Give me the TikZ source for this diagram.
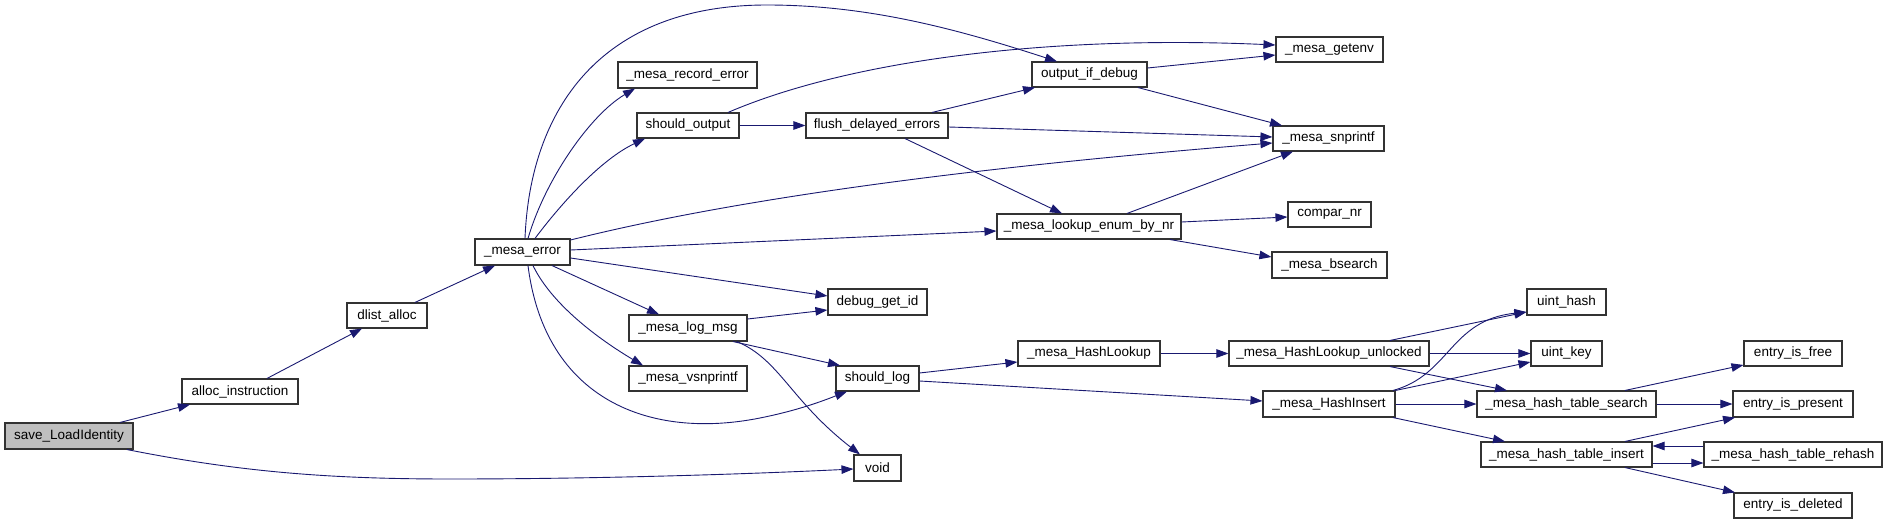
\documentclass[tikz,border=0pt]{standalone}
\usepackage{fontspec}
\setmainfont{Liberation Sans}
\usetikzlibrary{arrows.meta}
\definecolor{edgeblue}{HTML}{191970}
\definecolor{boxline}{HTML}{333333}
\definecolor{rootfill}{HTML}{BFBFBF}
\begin{document}
\begin{tikzpicture}[x=1pt,y=-1pt,
  fbox/.style={draw=boxline,line width=1.1pt,fill=white,inner sep=0pt,
    font=\fontsize{13.5}{16}\selectfont},
  rootbox/.style={fbox,fill=rootfill},
  edge/.style={draw=edgeblue,line width=0.9pt,-{Triangle[length=12pt,width=8.5pt]},fill=none}]
\useasboundingbox (0,0) rectangle (1888,524);
% nodes
\node[rootbox,minimum width=128pt,minimum height=26pt] (sli) at (69,436) {save\_LoadIdentity};
\node[fbox,minimum width=116pt,minimum height=25pt] (ai) at (240,391.5) {alloc\_instruction};
\node[fbox,minimum width=80pt,minimum height=25pt] (da) at (387,315.5) {dlist\_alloc};
\node[fbox,minimum width=95pt,minimum height=26pt] (me) at (522.5,252) {\_mesa\_error};
\node[fbox,minimum width=139pt,minimum height=26pt] (mre) at (687.5,75) {\_mesa\_record\_error};
\node[fbox,minimum width=102pt,minimum height=25pt] (so) at (688,125.5) {should\_output};
\node[fbox,minimum width=142pt,minimum height=25pt] (fde) at (877,125.5) {flush\_delayed\_errors};
\node[fbox,minimum width=115pt,minimum height=25pt] (oid) at (1089.5,74.5) {output\_if\_debug};
\node[fbox,minimum width=107pt,minimum height=25pt] (ge) at (1329.5,49.5) {\_mesa\_getenv};
\node[fbox,minimum width=111pt,minimum height=25pt] (sn) at (1328.5,138.5) {\_mesa\_snprintf};
\node[fbox,minimum width=184pt,minimum height=25pt] (le) at (1089,226.5) {\_mesa\_lookup\_enum\_by\_nr};
\node[fbox,minimum width=83pt,minimum height=25pt] (cn) at (1329.5,214.5) {compar\_nr};
\node[fbox,minimum width=115pt,minimum height=26pt] (bs) at (1329.5,265) {\_mesa\_bsearch};
\node[fbox,minimum width=99pt,minimum height=26pt] (dg) at (877.5,302) {debug\_get\_id};
\node[fbox,minimum width=118pt,minimum height=26pt] (lm) at (688,328) {\_mesa\_log\_msg};
\node[fbox,minimum width=118pt,minimum height=25pt] (vs) at (688,378.5) {\_mesa\_vsnprintf};
\node[fbox,minimum width=83pt,minimum height=25pt] (sl) at (877.5,378.5) {should\_log};
\node[fbox,minimum width=47pt,minimum height=26pt] (vo) at (877.5,468) {void};
\node[fbox,minimum width=142pt,minimum height=25pt] (hl) at (1089,353.5) {\_mesa\_HashLookup};
\node[fbox,minimum width=200pt,minimum height=25pt] (hlu) at (1329,353.5) {\_mesa\_HashLookup\_unlocked};
\node[fbox,minimum width=132pt,minimum height=26pt] (hi) at (1329,404) {\_mesa\_HashInsert};
\node[fbox,minimum width=79pt,minimum height=26pt] (uh) at (1566.5,302) {uint\_hash};
\node[fbox,minimum width=71pt,minimum height=25pt] (uk) at (1566.5,353.5) {uint\_key};
\node[fbox,minimum width=179pt,minimum height=26pt] (hts) at (1566.5,404) {\_mesa\_hash\_table\_search};
\node[fbox,minimum width=171pt,minimum height=25pt] (hti) at (1566.5,454.5) {\_mesa\_hash\_table\_insert};
\node[fbox,minimum width=98pt,minimum height=25pt] (ef) at (1793,353.5) {entry\_is\_free};
\node[fbox,minimum width=120pt,minimum height=26pt] (ep) at (1793,404) {entry\_is\_present};
\node[fbox,minimum width=118pt,minimum height=25pt] (ed) at (1793,505.5) {entry\_is\_deleted};
\node[fbox,minimum width=178pt,minimum height=25pt] (htr) at (1793,454.5) {\_mesa\_hash\_table\_rehash};
% edges
\draw[edge] (120,0 |- sli.north) -- (190,0 |- ai.south);
\draw[edge] (127,0 |- sli.south) .. controls (240,472) and (330,479) .. (450,479) .. controls (600,479) and (750,474) .. (vo.west |- 0,469);
\draw[edge] (267,0 |- ai.north) -- (362,0 |- da.south);
\draw[edge] (415,0 |- da.north) -- (495,0 |- me.south);
\draw[edge] (525,0 |- me.north) .. controls (530,110) and (600,5) .. (767,5) .. controls (870,5) and (960,30) .. (1057,0 |- oid.north);
\draw[edge] (528,0 |- me.north) .. controls (545,180) and (590,115) .. (635,0 |- mre.south);
\draw[edge] (535,0 |- me.north) .. controls (560,205) and (600,160) .. (645,0 |- so.south);
\draw[edge] (me.east |- 0,240) .. controls (750,195) and (1000,165) .. (sn.west |- 0,143);
\draw[edge] (me.east |- 0,250) -- (le.west |- 0,231);
\draw[edge] (me.east |- 0,258) -- (dg.west |- 0,296);
\draw[edge] (552,0 |- me.south) -- (659,0 |- lm.north);
\draw[edge] (533,0 |- me.south) .. controls (552,305) and (600,340) .. (643,0 |- vs.north);
\draw[edge] (528,0 |- me.south) .. controls (545,400) and (650,440) .. (760,418) .. controls (800,410) and (825,400) .. (847,0 |- sl.south);
\draw[edge] (so.east) -- (fde.west);
\draw[edge] (728,0 |- so.north) .. controls (850,60) and (1050,35) .. (ge.west |- 0,45);
\draw[edge] (932,0 |- fde.north) -- (1035,0 |- oid.south);
\draw[edge] (fde.east |- 0,127) -- (sn.west |- 0,137);
\draw[edge] (905,0 |- fde.south) -- (1062,0 |- le.north);
\draw[edge] (oid.east |- 0,68) -- (ge.west |- 0,55);
\draw[edge] (1138,0 |- oid.south) -- (1282,0 |- sn.north);
\draw[edge] (1127,0 |- le.north) -- (1293,0 |- sn.south);
\draw[edge] (le.east |- 0,222) -- (cn.west |- 0,217);
\draw[edge] (1170,0 |- le.south) -- (bs.west |- 0,257);
\draw[edge] (lm.east |- 0,319) -- (dg.west |- 0,310);
\draw[edge] (733,0 |- lm.south) -- (840,0 |- sl.north);
\draw[edge] (737,0 |- lm.south) .. controls (780,360) and (790,400) .. (860,0 |- vo.north);
\draw[edge] (sl.east |- 0,373) -- (hl.west |- 0,362);
\draw[edge] (sl.east |- 0,381) -- (hi.west |- 0,401);
\draw[edge] (hl.east) -- (hlu.west);
\draw[edge] (1390,0 |- hlu.north) -- (uh.west |- 0,312);
\draw[edge] (hlu.east) -- (uk.west);
\draw[edge] (1390,0 |- hlu.south) -- (1507,0 |- hts.north);
\draw[edge] (1393,0 |- hi.north) .. controls (1450,375) and (1450,320) .. (uh.west |- 0,312);
\draw[edge] (hi.north east) -- (uk.west |- 0,362);
\draw[edge] (hi.east) -- (hts.west);
\draw[edge] (1393,0 |- hi.south) -- (1505,0 |- hti.north);
\draw[edge] (1625,0 |- hts.north) -- (ef.west |- 0,365);
\draw[edge] (hts.east) -- (ep.west);
\draw[edge] (1625,0 |- hti.north) -- (1735,0 |- ep.south);
\draw[edge] (hti.east |- 0,463) -- (htr.west |- 0,463);
\draw[edge] (htr.west |- 0,446) -- (hti.east |- 0,446);
\draw[edge] (1625,0 |- hti.south) -- (1735,0 |- ed.north);
\end{tikzpicture}
\end{document}
